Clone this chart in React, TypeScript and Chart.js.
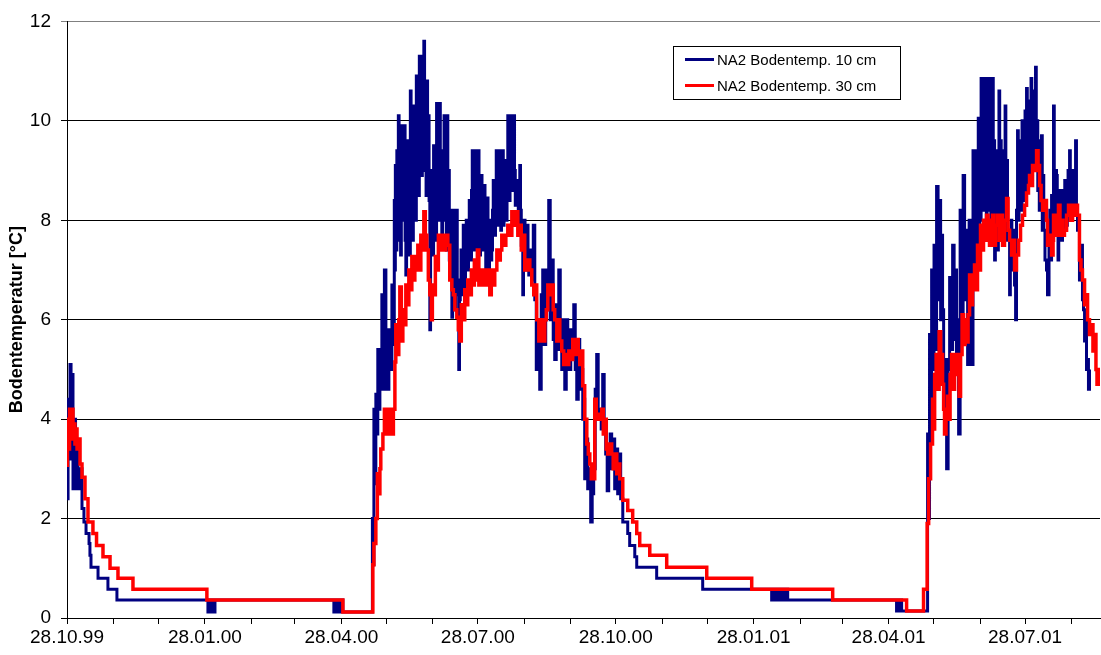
import { useEffect, useRef } from 'react';
import { Chart, registerables } from 'chart.js';

Chart.register(...registerables);

const FONT = "'Liberation Sans', Arial, Helvetica, sans-serif";

// x = days since 28.10.1999, y = °C
const seriesNames = ['NA2 Bodentemp. 10 cm', 'NA2 Bodentemp. 30 cm'];
const seriesColors = ['#000080', '#FF0000'];

const majorTickDays = [0, 92, 183, 274, 366, 458, 548, 639];
const majorTickLabels = ['28.10.99', '28.01.00', '28.04.00', '28.07.00', '28.10.00', '28.01.01', '28.04.01', '28.07.01'];
const minorTickDays = [31, 61, 123, 152, 213, 244, 305, 336, 397, 427, 489, 517, 578, 609, 670];
const xMaxDay = 689;

const temp10Autumn1999: [number, number][] = [
  [0, 2.4], [0.7, 4.4], [2, 5.1], [2.7, 3.2], [3.3, 4.9], [4, 2.6], [4.7, 4.0], [5.7, 2.6], [6.7, 3.5], [7.3, 2.6],
  [8.7, 3.0], [10, 2.2], [11.3, 1.93], [12.7, 1.7], [14.7, 1.5], [15.3, 1.26], [16, 1.02], [20.7, 0.8], [27.3, 0.58],
  [33.3, 0.36], [94, 0.12], [95.3, 0.36], [96, 0.12], [97.3, 0.36], [98, 0.12], [98.7, 0.36], [178, 0.12], [179, 0.36],
  [180, 0.12], [182, 0.36], [184, 0.12],
];

const temp10Summer2000: [number, number][] = [
  [203.7, 2.0], [204, 1.07], [204.7, 4.2], [205.3, 2.7], [206, 4.5], [206.7, 3.7], [207.3, 5.4], [208, 4.2], [208.7, 5.4],
  [209.3, 4.6], [210, 6.5], [210.7, 4.6], [211.7, 7.0], [212.7, 5.0], [213.3, 4.6], [214.7, 5.8], [216, 5.0], [216.7, 6.7],
  [217.3, 5.5],
  [218.3, 8.4], [218.7, 7.0], [219, 9.1], [219.5, 7.4], [220, 9.4], [220.5, 7.6], [221, 10.1], [221.5, 8.0], [222, 9.8],
  [222.5, 7.3], [223, 9.9], [223.5, 8.0], [224, 9.9], [224.5, 8.4], [225, 9.9], [225.5, 7.6], [226, 6.9], [226.5, 9.0],
  [227, 9.6], [227.5, 7.6], [228, 9.2], [228.5, 7.3], [229, 10.6], [229.5, 8.2], [230, 9.6], [230.5, 7.6], [231, 10.3],
  [231.5, 8.4], [232, 9.8], [232.5, 8.0], [233, 10.9], [233.5, 8.8], [234, 10.4], [234.5, 8.5], [235, 11.3], [235.5, 9.2],
  [236, 10.6], [236.5, 8.9], [237, 11.3], [237.5, 9.6], [238, 11.6], [238.5, 9.0], [239, 10.4], [239.5, 8.5], [240, 10.8],
  [240.5, 9.0], [241, 10.1], [241.5, 8.4], [242, 5.8], [242.5, 8.6], [243, 7.4], [243.5, 9.0], [244, 7.3], [244.5, 9.5],
  [245, 7.8], [245.5, 9.0], [246, 7.6], [246.5, 10.35], [247, 8.2], [247.5, 9.6], [248, 8.0], [248.5, 10.35], [249, 8.4],
  [249.5, 9.4], [250, 7.6], [250.5, 8.6], [251, 8.0], [251.5, 10.1], [252, 8.2], [252.5, 9.6], [253, 7.4], [253.5, 10.1],
  [254, 8.0], [254.5, 9.0], [255, 7.2], [255.7, 8.2], [256.2, 7.0], [256.7, 6.05], [257.2, 7.6], [257.7, 8.2],
  [258.2, 6.8], [258.7, 6.2], [259.2, 7.4], [259.7, 8.2], [260.3, 6.5], [261.3, 5.0], [261.8, 6.4], [262.3, 6.8],
  [262.8, 7.4], [263.3, 6.5], [263.8, 7.2], [264.3, 7.9], [264.8, 7.0], [265.3, 6.6], [265.8, 7.4], [266.3, 8.0],
  [266.8, 7.2], [267.3, 7.0], [267.8, 7.8], [268.3, 8.4], [268.8, 7.6], [269.3, 7.2], [269.8, 8.6], [270.3, 9.4],
  [270.8, 7.9], [271.3, 7.4], [271.8, 8.6], [272.3, 9.4], [272.8, 8.0], [273.3, 7.4], [273.8, 8.4], [274.3, 9.4],
  [274.8, 8.0], [275.3, 7.3], [275.8, 8.2], [276.3, 8.9], [276.8, 7.8], [277.3, 7.4], [277.8, 8.0], [278.3, 8.7],
  [278.8, 7.6], [279.3, 7.0], [279.8, 7.8], [280.3, 8.45], [280.8, 7.5], [281.3, 7.0], [281.8, 7.6], [282.3, 8.0],
  [282.8, 7.2], [283.3, 7.4], [283.8, 8.2], [284.3, 8.8], [284.8, 8.0], [285.3, 7.7], [285.8, 8.6], [286.3, 9.4],
  [286.8, 8.4], [287.3, 7.9], [287.8, 8.8], [288.3, 9.4], [288.8, 8.2], [289.3, 7.8], [289.8, 8.8], [290.3, 9.4],
  [291, 7.9], [291.5, 8.6], [292, 9.2], [292.5, 8.4], [293, 8.0], [293.5, 9.2], [294, 10.1], [294.5, 8.8], [295, 8.4],
  [295.5, 9.4], [296, 10.1], [296.5, 9.0], [297, 8.6], [297.5, 9.6], [298, 10.1], [298.5, 9.0], [299, 8.3], [299.5, 8.8],
  [300, 8.8], [301, 7.8], [301.5, 8.6], [302, 9.1], [302.5, 8.2], [303, 7.5], [304, 6.5], [304.5, 7.4], [305, 8.0],
  [305.5, 7.4], [306, 7.0], [306.5, 7.6], [307, 7.9], [307.5, 7.2], [308, 6.9], [308.5, 7.2], [309, 7.4], [310, 6.8],
  [311, 7.9], [312, 6.4], [313, 5.0], [314, 6.0], [315.3, 4.6], [316.3, 6.5], [317.3, 7.0], [318.3, 5.5],
  [319.3, 7.0], [320.3, 6.2], [321.3, 8.4], [322.3, 6.0], [323.3, 7.2], [324.3, 5.6], [325.3, 5.2], [326.3, 6.3],
  [327.3, 5.4], [328, 7.0], [329, 5.8], [330, 5.0], [331, 6.0], [332, 4.6], [333, 6.0], [334, 5.3], [335, 5.0], [336, 5.8],
  [337, 5.2], [338, 6.3], [339, 5.0], [340, 4.4], [341, 5.6], [342, 4.6], [343, 5.0], [344, 4.0], [345, 4.4], [345.3, 2.8],
  [346.3, 3.6], [347.3, 2.6], [348.3, 3.0], [349.3, 1.93], [350.3, 2.5], [351.3, 3.0], [352.3, 4.6], [353.3, 5.3],
  [354.3, 4.0], [355.3, 4.2], [356.3, 3.8], [357.3, 4.9], [358.3, 3.9], [359.3, 3.3], [360.3, 2.56], [361.3, 3.0],
  [362.3, 3.7], [363.3, 3.0], [364.3, 3.6], [365.3, 2.6], [366.3, 3.4], [367.3, 2.5], [368.3, 3.3], [369.3, 2.4],
  [370.7, 1.93], [374, 1.7], [375.3, 1.46], [378.7, 1.23], [380, 1.02],
];

const temp10Winter2000: [number, number][] = [
  [393.3, 0.8], [424, 0.58], [470, 0.36], [471.3, 0.58], [472.7, 0.36], [474, 0.58], [475.3, 0.36], [476.7, 0.58],
  [478.7, 0.36], [479.7, 0.58], [480.7, 0.36], [553.3, 0.14], [554.3, 0.36], [555, 0.14], [555.7, 0.36], [556.7, 0.14],
];

const temp10Summer2001: [number, number][] = [
  [574, 3.7], [574.7, 2.0], [575.3, 5.7], [576, 4.3], [576.7, 7.0], [577.3, 5.0], [578.3, 7.5], [579, 5.4], [580, 8.68],
  [581, 6.4], [582, 8.4], [582.7, 6.0], [583.3, 7.7], [584, 6.2], [584.7, 5.0], [585.3, 4.1], [586, 5.2], [586.7, 3.0],
  [587.7, 5.0], [588.7, 6.85], [589.3, 5.4], [590.7, 7.5], [591.7, 5.6], [592.3, 7.0], [593.3, 5.0], [594.3, 6.0],
  [594.7, 3.7], [595.7, 8.2], [596.7, 6.0], [597.7, 8.9], [598.7, 6.4], [599.7, 7.8], [600.7, 5.1], [601.7, 8.0],
  [602.7, 6.2], [603.3, 5.1],
  [604.3, 9.4], [604.8, 7.0], [605.3, 8.6], [605.8, 7.4], [606.3, 9.4], [606.8, 7.0], [607.3, 8.6], [607.8, 10.05],
  [608.3, 7.6], [608.8, 9.6], [609.3, 8.0], [609.7, 10.85], [610.2, 8.4], [610.7, 10.4], [611.2, 8.2], [611.7, 10.85],
  [612.2, 8.6], [612.7, 10.0], [613.2, 7.9], [613.7, 10.85], [614.2, 8.4], [614.7, 10.2], [615.2, 8.2], [615.7, 10.85],
  [616.2, 8.0], [616.7, 10.2], [617.3, 10.85], [617.8, 8.4], [618.3, 9.6], [618.7, 7.2], [619.2, 9.0], [619.7, 8.0],
  [620.2, 9.4], [620.7, 7.4], [621.2, 9.0], [621.6, 10.6], [622.1, 8.4], [622.6, 9.6], [623.1, 8.0], [623.6, 9.4],
  [624.1, 8.4], [624.7, 9.0], [625.2, 7.8], [625.7, 10.3], [626.2, 8.4], [626.7, 9.2], [627.3, 7.6], [628.7, 6.5],
  [629.2, 7.4], [629.7, 8.0], [630.2, 7.2], [630.7, 7.0], [631.3, 7.8], [632, 6.7], [632.7, 6.0], [633.3, 8.2],
  [634, 9.8], [634.5, 8.0], [635, 9.2], [635.5, 8.4], [636, 9.6], [636.5, 8.2], [637, 10.0], [637.5, 8.6], [638, 9.8],
  [638.5, 8.4], [639, 10.2], [639.5, 8.8], [640, 10.65], [640.5, 8.6], [641, 10.0], [641.5, 8.8], [642, 10.4],
  [642.5, 9.0], [643, 10.85], [643.5, 8.8], [644, 10.4], [644.5, 9.0], [645, 10.6], [645.5, 9.2], [646, 11.08],
  [646.5, 9.0], [647, 10.0], [647.5, 8.6], [648, 9.6], [648.5, 8.2], [649, 9.4], [649.5, 8.4], [650, 9.7], [650.5, 7.8],
  [651, 8.9], [651.5, 7.8], [652.3, 7.2], [653.3, 7.0], [654, 6.5], [655, 7.6], [655.5, 8.2], [656, 7.2], [656.7, 8.5],
  [657.3, 7.6], [658, 10.3], [658.5, 8.4], [659, 8.0], [659.5, 9.0], [660, 8.9], [660.5, 7.8], [661, 7.2], [661.5, 8.2],
  [662, 7.6], [662.5, 8.6], [663, 8.4], [663.5, 7.6], [664, 8.6], [664.5, 7.8], [665, 7.8], [665.5, 8.8], [666, 8.5],
  [666.7, 7.9], [667.2, 8.6], [667.7, 9.0], [668.2, 8.0], [668.7, 9.4], [669.2, 8.2], [669.7, 8.0], [670.2, 9.0],
  [670.7, 8.2], [671.2, 8.8], [671.7, 9.0], [672.2, 8.2], [672.7, 9.6], [673.3, 8.2], [674, 7.8], [675.3, 6.8],
  [676.3, 7.5], [677.3, 6.4], [678, 6.2], [678.7, 5.57], [679.3, 6.0], [680, 5.0], [680.7, 5.2], [681.3, 4.6], [682, 5.0],
];

const temp30Autumn1999: [number, number][] = [
  [0, 3.07], [0.3, 4.0], [1, 3.4], [1.7, 4.2], [2.7, 3.77], [3.3, 4.2], [4, 3.6], [4.7, 3.9], [5.3, 3.5], [6, 3.8],
  [6.7, 3.4], [7.3, 3.6], [8.7, 3.1], [10, 2.83], [12, 2.4], [14, 1.93], [17.3, 1.7], [19.7, 1.46], [24, 1.23],
  [28.7, 1.0], [34, 0.8], [44, 0.58], [93.3, 0.36], [184, 0.12],
];

const temp30Summer2000: [number, number][] = [
  [204, 1.07], [204.7, 1.5], [206, 2.0], [207, 2.9], [208, 2.5], [208.7, 3.0], [209.3, 3.4], [210.7, 3.7], [211.7, 4.2],
  [212.7, 3.7], [213.7, 4.2], [214.7, 3.7], [215.7, 4.2], [216.7, 3.7], [217.7, 4.2], [218.7, 5.15], [219.3, 5.9],
  [220.3, 5.3], [221.3, 6.0], [222, 6.66], [223, 5.57], [224, 6.2], [225, 5.9], [226, 6.7], [227, 6.3], [228, 7.0],
  [229, 6.6], [230, 7.27], [231, 6.8], [232, 7.27], [233, 7.0], [234, 7.5], [235, 7.0], [236, 7.7], [237, 7.4],
  [238, 8.17], [239, 7.7], [240, 7.4], [241, 6.8], [242, 6.5], [243, 6.0], [243.7, 6.7], [244.7, 6.5], [245.7, 7.27],
  [246.7, 7.0], [247.7, 7.7], [248.7, 7.4], [250, 7.7], [251.3, 7.4], [252.7, 7.7], [254, 7.5], [255.3, 6.8],
  [256.7, 6.6], [257.7, 6.5], [258.7, 6.2], [260, 6.05], [261, 5.8], [262, 5.57], [263, 6.3], [264, 6.0], [265.3, 6.6],
  [266.3, 6.3], [267.3, 6.8], [268.7, 6.5], [269.7, 7.0], [270.7, 6.7], [271.7, 7.2], [272.7, 6.8], [273.7, 7.4],
  [274.7, 6.7], [275.7, 7.0], [276.7, 6.7], [278, 7.0], [279.3, 6.7], [280.7, 7.0], [282, 6.5], [283, 7.0], [284, 6.7],
  [285.3, 7.0], [286.7, 7.4], [288, 7.2], [289, 7.4], [290, 7.7], [291.3, 7.5], [292.7, 7.7], [294, 7.9], [295.3, 7.7],
  [296.7, 8.17], [298, 7.9], [299.3, 8.17], [300.7, 7.7], [302, 7.9], [303, 7.4], [304, 7.7], [305.3, 7.0], [307.3, 7.2],
  [308.7, 7.0], [310, 6.7], [311.3, 6.5], [312.3, 6.7], [313.3, 6.0], [314.7, 5.57], [316, 6.0], [317.3, 5.57],
  [318.7, 6.0], [319.7, 6.2], [320.7, 6.7], [322, 6.5], [323.3, 6.7], [324.3, 6.2], [325.3, 6.0], [326.7, 5.57],
  [327.7, 6.0], [328.7, 5.57], [330, 5.37], [331.3, 5.1], [332.7, 5.3], [333.7, 5.1], [334.7, 5.37], [336, 5.2],
  [337.3, 5.6], [338.7, 5.3], [340, 5.6], [341, 5.37], [342, 5.1], [343.3, 5.37], [344, 4.67], [345.3, 4.0],
  [346.7, 3.5], [347.7, 3.3], [348.7, 3.1], [349.7, 2.8], [350.7, 3.0], [351.3, 2.8], [352, 4.4], [353, 4.0], [354, 4.1],
  [355.3, 4.0], [356.7, 4.2], [357.7, 3.7], [358.7, 4.0], [359.7, 3.4], [360.7, 3.3], [362, 3.5], [363.3, 3.3],
  [364.3, 3.0], [365.3, 3.3], [366.7, 2.9], [368, 3.1], [368.7, 2.8], [370.7, 2.37], [374, 2.16], [377.3, 1.93],
  [380, 1.7], [382, 1.46], [388.7, 1.26], [400, 1.02],
];

const temp30Winter2000: [number, number][] = [
  [426.7, 0.8], [456.7, 0.58], [510.7, 0.36], [560, 0.14], [571.3, 0.58],
];

const temp30Summer2001: [number, number][] = [
  [573.7, 1.9], [574.7, 2.8], [576, 3.5], [577.3, 4.4], [578, 3.8], [578.7, 4.9], [579.7, 5.3], [580.7, 4.6],
  [581.7, 5.76], [582.7, 5.1], [583.3, 5.3], [584, 4.7], [584.7, 4.2], [585.3, 3.7], [586.3, 4.2], [587.3, 4.46],
  [588.3, 4.0], [589, 4.9], [590, 5.3], [591, 4.6], [592, 5.3], [593, 4.9], [594, 5.3], [595, 4.46], [596, 5.3],
  [597, 6.1], [598, 5.5], [599, 6.0], [600, 5.55], [601, 6.1], [602, 6.9], [603, 6.3], [604, 6.6], [605.3, 7.1],
  [606.3, 6.6], [607.3, 7.5], [608.3, 7.0], [609.3, 7.9], [610.3, 7.4], [611.3, 8.0], [612.3, 7.6], [613.3, 8.1],
  [614.3, 7.6], [615.3, 7.5], [616.3, 8.0], [617.3, 8.1], [618.3, 7.5], [619.3, 7.9], [620.7, 8.1], [621.7, 7.6],
  [622.7, 8.1], [624, 7.5], [625.3, 8.0], [626.7, 8.44], [627.7, 7.8], [628.7, 7.6], [630, 7.3], [631, 7.6], [632, 7.0],
  [633.3, 7.3], [634.7, 7.6], [636, 7.9], [637.3, 8.1], [638.7, 8.3], [640, 8.55], [641.3, 8.7], [642, 8.9],
  [643.3, 8.7], [644, 9.1], [645.3, 9.0], [646.7, 9.4], [647.7, 9.1], [648.7, 8.7], [649.7, 8.4], [650.7, 8.2],
  [652, 8.4], [653.3, 8.0], [654, 7.5], [655.3, 7.7], [656.7, 7.3], [657.7, 7.6], [658, 8.1], [659, 7.7], [660, 8.0],
  [661.3, 8.3], [662.3, 7.7], [663.3, 8.0], [664.3, 7.7], [665.3, 7.8], [666.7, 8.1], [668, 8.3], [669.3, 8.0],
  [670.7, 8.3], [672, 8.1], [673.3, 8.3], [674, 8.1], [675.3, 7.2], [676.3, 7.0], [677.3, 6.8], [678.7, 6.3],
  [679.7, 6.5], [680.7, 6.0], [682, 5.7], [683, 5.9], [684.3, 5.37], [685.3, 5.7], [686.3, 5.0], [687, 4.7],
  [687.7, 5.0], [688.3, 4.7], [689, 5.0],
];

const toPoints = (...parts: [number, number][][]) =>
  parts.flat().map(([x, y]) => ({ x, y }));

const boxLegend = {
  id: 'boxLegend',
  afterDatasetsDraw(chart: any) {
    const { ctx } = chart;
    const left = 673;
    const top = 46;
    const w = 227;
    const h = 53;
    ctx.save();
    ctx.fillStyle = '#ffffff';
    ctx.fillRect(left, top, w, h);
    ctx.strokeStyle = '#000000';
    ctx.lineWidth = 1;
    ctx.strokeRect(left + 0.5, top + 0.5, w, h);
    ctx.font = `15px ${FONT}`;
    ctx.textBaseline = 'middle';
    ctx.textAlign = 'left';
    seriesNames.forEach((name, i) => {
      const y = top + 13.5 + i * 26;
      ctx.strokeStyle = seriesColors[i];
      ctx.lineWidth = 3;
      ctx.beginPath();
      ctx.moveTo(left + 12, y);
      ctx.lineTo(left + 41, y);
      ctx.stroke();
      ctx.fillStyle = '#000000';
      ctx.fillText(name, left + 44, y + 1);
    });
    ctx.restore();
  },
};

export default function App() {
  const ref = useRef<HTMLCanvasElement>(null);

  useEffect(() => {
    const allTicks = [...majorTickDays, ...minorTickDays].sort((a, b) => a - b);
    const chart = new Chart(ref.current as HTMLCanvasElement, {
      type: 'line',
      data: {
        datasets: [
          {
            label: seriesNames[0],
            data: toPoints(temp10Autumn1999, temp10Summer2000, temp10Winter2000, temp10Summer2001),
            borderColor: seriesColors[0],
            backgroundColor: seriesColors[0],
            borderWidth: 3,
            pointRadius: 0,
            stepped: true,
            order: 2,
          },
          {
            label: seriesNames[1],
            data: toPoints(temp30Autumn1999, temp30Summer2000, temp30Winter2000, temp30Summer2001),
            borderColor: seriesColors[1],
            backgroundColor: seriesColors[1],
            borderWidth: 3.5,
            pointRadius: 0,
            stepped: true,
            order: 1,
          },
        ],
      },
      options: {
        animation: false,
        responsive: true,
        maintainAspectRatio: false,
        layout: { padding: { top: 19, right: 1, left: 0, bottom: 0 } },
        plugins: {
          legend: { display: false },
          tooltip: { enabled: false },
        },
        scales: {
          x: {
            type: 'linear',
            min: 0,
            max: xMaxDay,
            afterBuildTicks: (scale: any) => {
              scale.ticks = allTicks.map((v) => ({ value: v }));
            },
            afterFit: (scale: any) => {
              scale.height = 37;
            },
            ticks: {
              autoSkip: false,
              maxRotation: 0,
              padding: 2,
              color: '#000',
              font: { family: FONT, size: 19 },
              callback: (value: any) => {
                const idx = majorTickDays.indexOf(Number(value));
                return idx >= 0 ? majorTickLabels[idx] : '';
              },
            },
            grid: {
              drawOnChartArea: false,
              drawTicks: true,
              tickLength: 6,
              color: '#000',
            },
            border: { color: '#000', width: 1 },
          },
          y: {
            min: 0,
            max: 12,
            afterFit: (scale: any) => {
              scale.width = 67;
            },
            ticks: {
              stepSize: 2,
              padding: 10,
              color: '#000',
              font: { family: FONT, size: 19 },
            },
            grid: {
              tickLength: 6,
              color: (c: any) => (c.tick && c.tick.value === 12 ? '#808080' : '#000'),
            },
            border: { color: '#000', width: 1 },
            title: {
              display: true,
              text: 'Bodentemperatur [°C]',
              color: '#000',
              font: { family: FONT, size: 18, weight: 'bold' },
              padding: { top: 6, bottom: 0 },
            },
          },
        },
      },
      plugins: [boxLegend],
    } as any);
    return () => chart.destroy();
  }, []);

  return (
    <div style={{ position: 'fixed', left: 0, top: 0, width: 1101, height: 655, background: '#fff' }}>
      <canvas ref={ref} />
    </div>
  );
}
